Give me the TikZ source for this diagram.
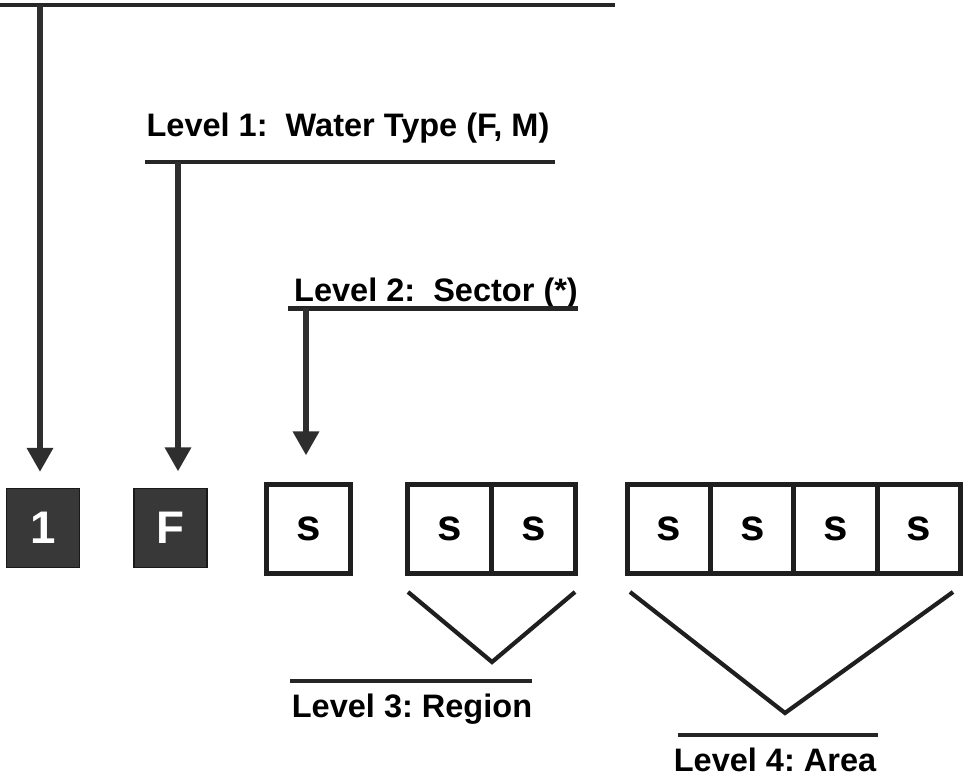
\documentclass[tikz,border=0pt]{standalone}
\usepackage{fontspec}
\setmainfont{Liberation Sans}
\frenchspacing
\usetikzlibrary{arrows.meta}
\usetikzlibrary{positioning}

\tikzset{
  lvl/.style={font=\fontsize{18.5}{21}\selectfont\bfseries, anchor=base, inner sep=0pt},
  bar/.style={draw=black!85, line width=2.8pt},
  drop/.style={draw=black!82, line width=3.6pt, -{Triangle[width=0.5cm,length=0.48cm]}},
  darkbox/.style={fill=black!78, draw=black!90, line width=0.6pt, minimum width=1.46cm, minimum height=1.58cm,
    inner sep=0pt, text=white, font=\fontsize{26}{28}\selectfont\bfseries},
  cell/.style={draw=black!88, line width=2.8pt, minimum width=1.68cm, minimum height=1.78cm,
    inner sep=0pt, outer sep=0pt, font=\fontsize{25}{28}\selectfont\bfseries},
  vee/.style={draw=black!88, line width=2.4pt, line join=miter}
}

\begin{document}
\begin{tikzpicture}
		\useasboundingbox (0,0) rectangle (19.32,15.6);
		% code boxes
		\node[darkbox] (one) at (0.86,5.04) {1};
		\node[darkbox] (ftype) at (3.41,5.04) {F};
		\node[cell] (sec) at (6.17,5.02) {s};
		\node[cell] (reg1) at (8.99,5.02) {s};
		\node[cell, right=0pt of reg1] (reg2) {s};
		\node[cell, minimum width=1.665cm] (area1) at (13.38,5.02) {s};
		\node[cell, minimum width=1.665cm, right=0pt of area1] (area2) {s};
		\node[cell, minimum width=1.665cm, right=0pt of area2] (area3) {s};
		\node[cell, minimum width=1.665cm, right=0pt of area3] (area4) {s};
		% level labels
		\node[lvl] (lvlone) at (6.96,12.86) {Level 1:\ \ Water Type (F, M)};
		\node[lvl] (lvltwo) at (8.72,9.56) {Level 2:\ \ Sector (*)};
		\node[lvl] (lvlthree) at (8.24,1.24) {Level 3: Region};
		\node[lvl] (lvlfour) at (15.5,0.16) {Level 4: Area};
		% bars
		\coordinate (topw) at (0,15.5);
		\coordinate (tope) at (12.3,15.5);
		\coordinate (onew) at (2.9,12.36);
		\coordinate (onee) at (11.1,12.36);
		\coordinate (twow) at (5.76,9.43);
		\coordinate (twoe) at (11.56,9.43);
		\coordinate (threew) at (5.8,1.98);
		\coordinate (threee) at (10.64,1.98);
		\coordinate (fourw) at (13.56,0.9);
		\coordinate (foure) at (17.56,0.9);
		\draw[bar] (topw) -- (tope);
		\draw[bar] (onew) -- (onee);
		\draw[bar] (twow) -- (twoe);
		\draw[bar] (threew) -- (threee);
		\draw[bar] (fourw) -- (foure);
		% drops onto the boxes
		\coordinate (tap0) at (0.8,15.5);
		\coordinate (tap1) at (3.56,12.36);
		\coordinate (tap2) at (6.12,9.43);
		\draw[drop, shorten >=0.32cm] (tap0) -- (tap0 |- one.north);
		\draw[drop, shorten >=0.33cm] (tap1) -- (tap1 |- ftype.north);
		\draw[drop, shorten >=0.58cm] (tap2) -- (tap2 |- sec.north);
		% brackets under region and area
		\coordinate (regl) at (8.16,3.76);
		\coordinate (regv) at (9.84,2.36);
		\coordinate (regr) at (11.5,3.76);
		\coordinate (areal) at (12.6,3.76);
		\coordinate (areav) at (15.7,1.34);
		\coordinate (arear) at (19.06,3.76);
		\draw[vee] (regl) -- (regv) -- (regr);
		\draw[vee] (areal) -- (areav) -- (arear);
\end{tikzpicture}
\end{document}
